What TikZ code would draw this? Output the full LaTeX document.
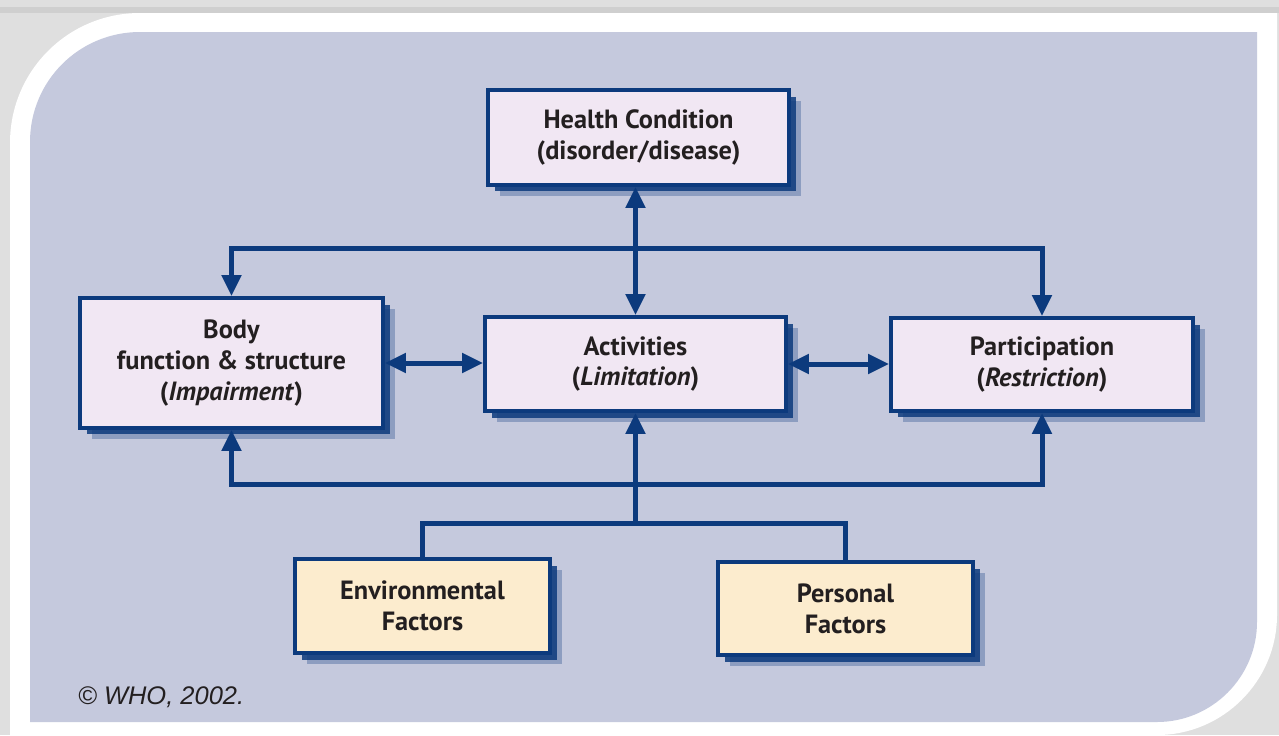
\documentclass[tikz,border=0pt]{standalone}
\usepackage{fontspec}
\setmainfont{PT Sans}
\newfontfamily\helvfont{Liberation Sans}
\usetikzlibrary{arrows.meta,shadows}
\usepackage{xcolor}
\definecolor{frameblue}{RGB}{197,201,221}
\definecolor{boxline}{RGB}{12,58,125}
\definecolor{boxpink}{RGB}{241,231,243}
\definecolor{boxcream}{RGB}{252,236,206}
\definecolor{textdark}{RGB}{35,31,32}

\tikzset{
  icfbox/.style={draw=boxline, line width=0.08cm, fill=boxpink, align=center,
    text=textdark, font=\bfseries\fontsize{15}{17.5}\selectfont, inner sep=0pt,
    drop shadow={shadow xshift=0.24cm, shadow yshift=-0.22cm, fill=boxline, opacity=0.3},
    drop shadow={shadow xshift=0.14cm, shadow yshift=-0.13cm, fill=boxline, opacity=0.85}},
  factorbox/.style={icfbox, fill=boxcream},
  link/.style={draw=boxline, line width=0.1cm},
  twoway/.style={link, {Triangle[length=0.42cm,width=0.38cm]}-{Triangle[length=0.42cm,width=0.38cm]}},
  oneway/.style={link, -{Triangle[length=0.42cm,width=0.38cm]}}
}

\begin{document}
\begin{tikzpicture}[x=0.02cm, y=-0.02cm]
      \useasboundingbox (0,0) rectangle (1279,735);
      \fill [gray!25] (0,0) rectangle (1279,735);
      \fill [gray!38] (0,7) rectangle (1279,13);
      \fill [white] (10,735) -- (10,143) .. controls (10,71) and (68,13) .. (140,13)
        -- (1277,13) -- (1277,615) .. controls (1277,681) and (1223,735) .. (1157,735) -- cycle;
      \fill [frameblue] (30,722) -- (30,142) .. controls (30,81) and (79,32) .. (140,32)
        -- (1257,32) -- (1257,622) .. controls (1257,677) and (1212,722) .. (1157,722) -- cycle;

      \node [icfbox, minimum width=6.02cm, minimum height=1.9cm] (health) at (638.5,137.5)
        {Health Condition\\(disorder/disease)};
      \node [icfbox, minimum width=6.06cm, minimum height=2.6cm] (body) at (231.5,363)
        {Body\\function \& structure\\(\textit{Impairment})};
      \node [icfbox, minimum width=6.02cm, minimum height=1.88cm] (act) at (635.5,364)
        {Activities\\(\textit{Limitation})};
      \node [icfbox, minimum width=6.04cm, minimum height=1.86cm] (part) at (1042,364.5)
        {Participation\\(\textit{Restriction})};
      \node [factorbox, minimum width=5.1cm, minimum height=1.88cm] (env) at (422.5,606)
        {Environmental\\Factors};
      \node [factorbox, minimum width=5.1cm, minimum height=1.86cm] (pers) at (845.5,608.5)
        {Personal\\Factors};

      \node [anchor=west, text=textdark, font=\helvfont\itshape\fontsize{14.5}{16}\selectfont]
        (credit) at (72,697) {\textcopyright{} WHO, 2002.};

      \coordinate (topbus) at (act.north |- 0,248);
      \coordinate (lowbus) at (act.south |- 0,484);
      \coordinate (factorbus) at (act.south |- 0,523);

      \draw [twoway] (act.north) -- (act.north |- health.south);
      \draw [twoway] (body.north) |- (topbus) -| (part.north);
      \draw [twoway] (body.south) |- (lowbus) -| (part.south);
      \draw [twoway] (body.east) -- (body.east -| act.west);
      \draw [twoway] (act.east) -- (act.east -| part.west);
      \draw [oneway] (factorbus) -- (act.south);
      \draw [link] (env.north) |- (factorbus) -| (pers.north);
    \end{tikzpicture}
\end{document}
